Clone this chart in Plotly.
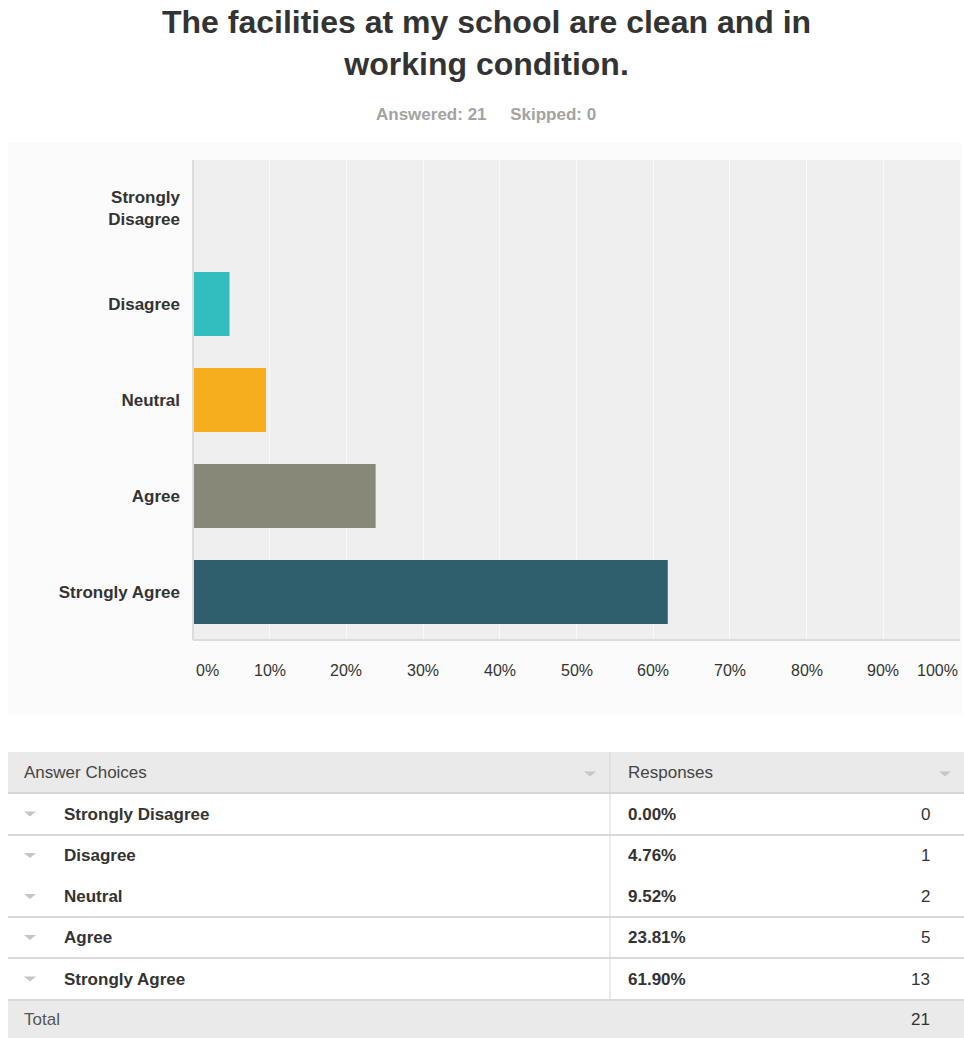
import plotly.graph_objects as go

categories = ["Strongly Disagree", "Disagree", "Neutral", "Agree", "Strongly Agree"]
axis_labels = ["Strongly<br>Disagree", "Disagree", "Neutral", "Agree", "Strongly Agree"]
percents = [0.00, 4.76, 9.52, 23.81, 61.90]
counts = [0, 1, 2, 5, 13]
total = 21
answered = 21
skipped = 0
x_ticks = [0, 10, 20, 30, 40, 50, 60, 70, 80, 90, 100]
x_tick_labels = ["0%", "10%", "20%", "30%", "40%", "50%", "60%", "70%", "80%", "90%", "100%"]

bar_colors = ["#e05a4f", "#32bdbe", "#f6ae1f", "#878877", "#2f5f6d"]

W, H = 964, 1038
FONT = "Liberation Sans, Arial, Helvetica, sans-serif"


def px(x):
    return x / W


def py(y):
    return 1 - y / H


def tri(cx, cy, w=12, h=5, color="#c6c6c6"):
    path = (f"M {px(cx - w / 2)},{py(cy - h / 2)} L {px(cx + w / 2)},{py(cy - h / 2)} "
            f"L {px(cx)},{py(cy + h / 2)} Z")
    return dict(type="path", xref="paper", yref="paper", path=path, fillcolor=color, line=dict(width=0))


fig = go.Figure()
fig.add_trace(go.Bar(
    y=categories, x=percents, orientation="h",
    marker=dict(color=bar_colors, line=dict(width=0)),
    width=0.667, hoverinfo="skip",
))

shapes = []
annotations = []

# faint chart background and plot area background
shapes.append(dict(type="rect", xref="paper", yref="paper", x0=px(8), x1=px(962), y0=py(715), y1=py(142),
                   fillcolor="#fbfbfb", line=dict(width=0), layer="below"))
shapes.append(dict(type="rect", xref="paper", yref="paper", x0=px(193), x1=px(960), y0=py(640), y1=py(160),
                   fillcolor="#efefef", line=dict(width=0), layer="below"))

# x tick labels
for v, t in zip(x_ticks, x_tick_labels):
    anchor = "left" if v == 0 else ("right" if v == 100 else "center")
    annotations.append(dict(x=v, xref="x", y=py(670), yref="paper", text=t, showarrow=False,
                            xanchor=anchor, yanchor="middle",
                            xshift=1 if v == 0 else 0,
                            font=dict(family=FONT, size=16, color="#333333")))

# title and subtitle
annotations.append(dict(x=px(486), y=py(43), xref="paper", yref="paper", showarrow=False,
                        text="<b>The facilities at my school are clean and in<br>working condition.</b>",
                        font=dict(family=FONT, size=32, color="#333333"), xanchor="center", yanchor="middle"))
annotations.append(dict(x=px(486), y=py(114), xref="paper", yref="paper", showarrow=False,
                        text=f"<b>Answered: {answered}&nbsp;&nbsp;&nbsp;&nbsp;&nbsp;Skipped: {skipped}</b>",
                        font=dict(family=FONT, size=17, color="#a3a3a3"), xanchor="center", yanchor="middle"))

# table
TL, TR, VX = 8, 964, 610
header = (752, 793)
row_bounds = [(793, 835), (835, 876), (876, 917), (917, 958), (958, 1000)]
total_row = (1000, 1038)
line_after = [True, False, True, True, True]
grey_bg = "#eaeaea"

shapes.append(dict(type="rect", xref="paper", yref="paper", x0=px(TL), x1=px(TR), y0=py(header[1]), y1=py(header[0]),
                   fillcolor=grey_bg, line=dict(width=0)))
shapes.append(dict(type="rect", xref="paper", yref="paper", x0=px(TL), x1=px(TR), y0=py(total_row[1]), y1=py(total_row[0]),
                   fillcolor=grey_bg, line=dict(width=0)))
shapes.append(dict(type="line", xref="paper", yref="paper", x0=px(VX), x1=px(VX), y0=py(1000), y1=py(752),
                   line=dict(color="#d6d6d6", width=1)))
shapes.append(dict(type="line", xref="paper", yref="paper", x0=px(TL), x1=px(TR), y0=py(793), y1=py(793),
                   line=dict(color="#d6d6d6", width=2)))
for (y0, y1), has_line in zip(row_bounds, line_after):
    if has_line:
        shapes.append(dict(type="line", xref="paper", yref="paper", x0=px(TL), x1=px(TR), y0=py(y1), y1=py(y1),
                           line=dict(color="#d9d9d9", width=2)))

annotations.append(dict(x=px(22), y=py(772), xref="paper", yref="paper", text="Answer Choices", showarrow=False,
                        xanchor="left", yanchor="middle", font=dict(family=FONT, size=17, color="#444444")))
annotations.append(dict(x=px(626), y=py(772), xref="paper", yref="paper", text="Responses", showarrow=False,
                        xanchor="left", yanchor="middle", font=dict(family=FONT, size=17, color="#444444")))
for xx in (590, 945):
    shapes.append(tri(xx, 774))

for cat, p, c, (y0, y1) in zip(categories, percents, counts, row_bounds):
    ycp = (y0 + y1) / 2
    yc = py(ycp)
    shapes.append(tri(30, ycp))
    annotations.append(dict(x=px(62), y=yc, xref="paper", yref="paper", text=f"<b>{cat}</b>", showarrow=False,
                            xanchor="left", yanchor="middle", font=dict(family=FONT, size=17, color="#333333")))
    annotations.append(dict(x=px(626), y=yc, xref="paper", yref="paper", text=f"<b>{p:.2f}%</b>", showarrow=False,
                            xanchor="left", yanchor="middle", font=dict(family=FONT, size=17, color="#333333")))
    annotations.append(dict(x=px(932), y=yc, xref="paper", yref="paper", text=f"{c}", showarrow=False,
                            xanchor="right", yanchor="middle", font=dict(family=FONT, size=17, color="#333333")))

annotations.append(dict(x=px(22), y=py(1019), xref="paper", yref="paper", text="Total", showarrow=False,
                        xanchor="left", yanchor="middle", font=dict(family=FONT, size=17, color="#555555")))
annotations.append(dict(x=px(932), y=py(1019), xref="paper", yref="paper", text=f"{total}", showarrow=False,
                        xanchor="right", yanchor="middle", font=dict(family=FONT, size=17, color="#333333")))

fig.update_layout(
    width=W, height=H, autosize=False,
    margin=dict(l=0, r=0, t=0, b=0),
    paper_bgcolor="white", plot_bgcolor="#efefef",
    showlegend=False,
    bargap=1 / 3,
    xaxis=dict(domain=[px(193), px(960)], range=[0, 100], tickvals=x_ticks, showticklabels=False,
               showgrid=True, gridcolor="#fafafa", gridwidth=1, zeroline=False,
               showline=False, fixedrange=True),
    yaxis=dict(domain=[py(640), py(160)], categoryorder="array", categoryarray=categories,
               autorange="reversed", tickvals=categories, ticktext=[f"<b>{t}</b>" for t in axis_labels],
               tickfont=dict(family=FONT, size=17, color="#333333"), ticks="", ticklabelstandoff=12,
               showgrid=False, zeroline=False, showline=False, fixedrange=True),
    shapes=shapes,
    annotations=annotations,
)

# plot frame: left edge and bottom edge
fig.add_shape(type="line", xref="paper", yref="paper", x0=px(193), x1=px(193), y0=py(640), y1=py(160),
              line=dict(color="#dcdcdc", width=2))
fig.add_shape(type="line", xref="paper", yref="paper", x0=px(193), x1=px(960), y0=py(640), y1=py(640),
              line=dict(color="#dcdcdc", width=2))

fig.write_html(
    "out.html",
    config={"displayModeBar": False},
    post_script="document.body.style.margin='0px';document.body.style.overflow='hidden';",
)
